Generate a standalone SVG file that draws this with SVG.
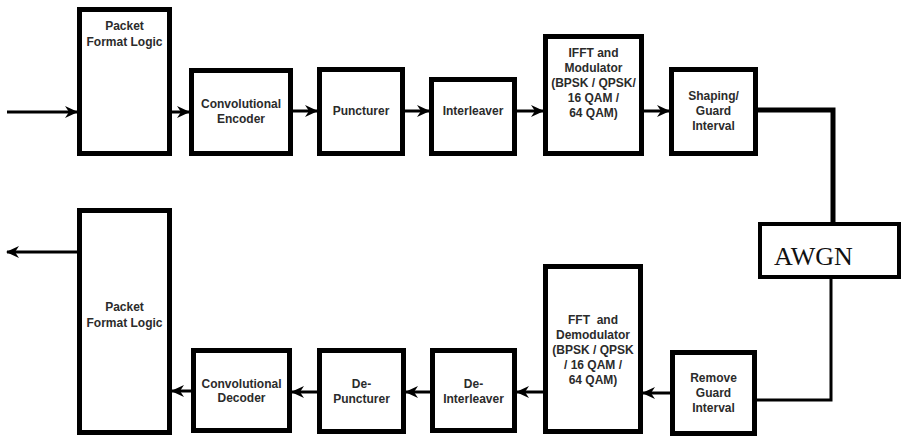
<svg xmlns="http://www.w3.org/2000/svg" width="902" height="437" viewBox="0 0 902 437">
  <style>
    .box { fill: #fff; stroke: #000; stroke-width: 5; }
    .awgn { fill: #fff; stroke: #000; stroke-width: 4; }
    .lbl { font-family: "Liberation Sans", Arial, sans-serif; font-size: 12px; font-weight: bold; fill: #2b2b2b; text-anchor: middle; }
    .serif { font-family: "Liberation Serif", "Times New Roman", serif; font-size: 26px; fill: #111; }
    .arr { stroke: #000; stroke-width: 3; fill: none; marker-end: url(#ah); }
    .wire { stroke: #000; fill: none; }
  </style>
  <defs>
    <marker id="ah" viewBox="0 0 13 12" refX="12" refY="6" markerWidth="13" markerHeight="12" markerUnits="userSpaceOnUse" orient="auto">
      <path d="M0,0 L13,6 L0,12 L4,6 z" fill="#000"/>
    </marker>
  </defs>
  <rect width="902" height="437" fill="#fff"/>

  <g id="connectors">
    <line class="arr" x1="7" y1="112" x2="77" y2="112"/>
    <line class="arr" x1="172" y1="112" x2="189" y2="112"/>
    <line class="arr" x1="293" y1="111" x2="317" y2="111"/>
    <line class="arr" x1="405" y1="111" x2="429" y2="111"/>
    <line class="arr" x1="517" y1="111" x2="543" y2="111"/>
    <line class="arr" x1="644" y1="111" x2="669" y2="111"/>
    <polyline class="wire" stroke-width="5" points="758,110 833,110 833,222"/>
    <polyline class="wire" stroke-width="3" points="831,279 831,400 757,400"/>
    <line class="arr" x1="670" y1="393" x2="643" y2="393"/>
    <line class="arr" x1="543" y1="392" x2="517" y2="392"/>
    <line class="arr" x1="430" y1="392" x2="406" y2="392"/>
    <line class="arr" x1="317" y1="392" x2="292" y2="392"/>
    <line class="arr" x1="191" y1="391" x2="172" y2="391"/>
    <line class="arr" x1="77" y1="252" x2="7" y2="252"/>
  </g>

  <g id="tx-packet-format">
    <rect class="box" x="79.5" y="9.5" width="90" height="144"/>
    <text class="lbl" x="124.5" y="29.5">Packet</text>
    <text class="lbl" x="124.5" y="45.5">Format Logic</text>
  </g>
  <g id="conv-encoder">
    <rect class="box" x="191.5" y="70.5" width="99" height="83"/>
    <text class="lbl" x="241" y="107.5">Convolutional</text>
    <text class="lbl" x="241" y="122.5">Encoder</text>
  </g>
  <g id="puncturer">
    <rect class="box" x="319.5" y="69.5" width="83" height="84"/>
    <text class="lbl" x="361" y="114.5">Puncturer</text>
  </g>
  <g id="interleaver">
    <rect class="box" x="431.5" y="79.5" width="83" height="74"/>
    <text class="lbl" x="473" y="114.5">Interleaver</text>
  </g>
  <g id="ifft-modulator">
    <rect class="box" x="545.5" y="36.5" width="96" height="117"/>
    <text class="lbl" x="593.5" y="57">IFFT and</text>
    <text class="lbl" x="593.5" y="72">Modulator</text>
    <text class="lbl" x="593.5" y="86.5">(BPSK / QPSK/</text>
    <text class="lbl" x="593.5" y="101.5">16 QAM /</text>
    <text class="lbl" x="593.5" y="117">64 QAM)</text>
  </g>
  <g id="shaping-guard">
    <rect class="box" x="671.5" y="69.5" width="84" height="84"/>
    <text class="lbl" x="713.5" y="100">Shaping/</text>
    <text class="lbl" x="713.5" y="114.5">Guard</text>
    <text class="lbl" x="713.5" y="129.5">Interval</text>
  </g>
  <g id="awgn">
    <rect class="awgn" x="760" y="224" width="139" height="53"/>
    <text class="serif" x="774" y="265">AWGN</text>
  </g>
  <g id="remove-guard">
    <rect class="box" x="672.5" y="352.5" width="82" height="81"/>
    <text class="lbl" x="713.5" y="381.5">Remove</text>
    <text class="lbl" x="713.5" y="396.5">Guard</text>
    <text class="lbl" x="713.5" y="412">Interval</text>
  </g>
  <g id="fft-demodulator">
    <rect class="box" x="545.5" y="266.5" width="95" height="165"/>
    <text class="lbl" x="593" y="323.5" xml:space="preserve">FFT  and</text>
    <text class="lbl" x="593" y="338.5">Demodulator</text>
    <text class="lbl" x="593" y="353.5">(BPSK / QPSK</text>
    <text class="lbl" x="593" y="368.5">/ 16 QAM /</text>
    <text class="lbl" x="593" y="383.5">64 QAM)</text>
  </g>
  <g id="de-interleaver">
    <rect class="box" x="432.5" y="350.5" width="82" height="80"/>
    <text class="lbl" x="473.5" y="387.5">De-</text>
    <text class="lbl" x="473.5" y="402.5">Interleaver</text>
  </g>
  <g id="de-puncturer">
    <rect class="box" x="319.5" y="350.5" width="84" height="81"/>
    <text class="lbl" x="361.5" y="387.5">De-</text>
    <text class="lbl" x="361.5" y="402.5">Puncturer</text>
  </g>
  <g id="conv-decoder">
    <rect class="box" x="193.5" y="350.5" width="96" height="80"/>
    <text class="lbl" x="241.5" y="387.5">Convolutional</text>
    <text class="lbl" x="241.5" y="401.5">Decoder</text>
  </g>
  <g id="rx-packet-format">
    <rect class="box" x="79.5" y="210.5" width="90" height="222"/>
    <text class="lbl" x="124.5" y="311">Packet</text>
    <text class="lbl" x="124.5" y="326.5">Format Logic</text>
  </g>
</svg>
